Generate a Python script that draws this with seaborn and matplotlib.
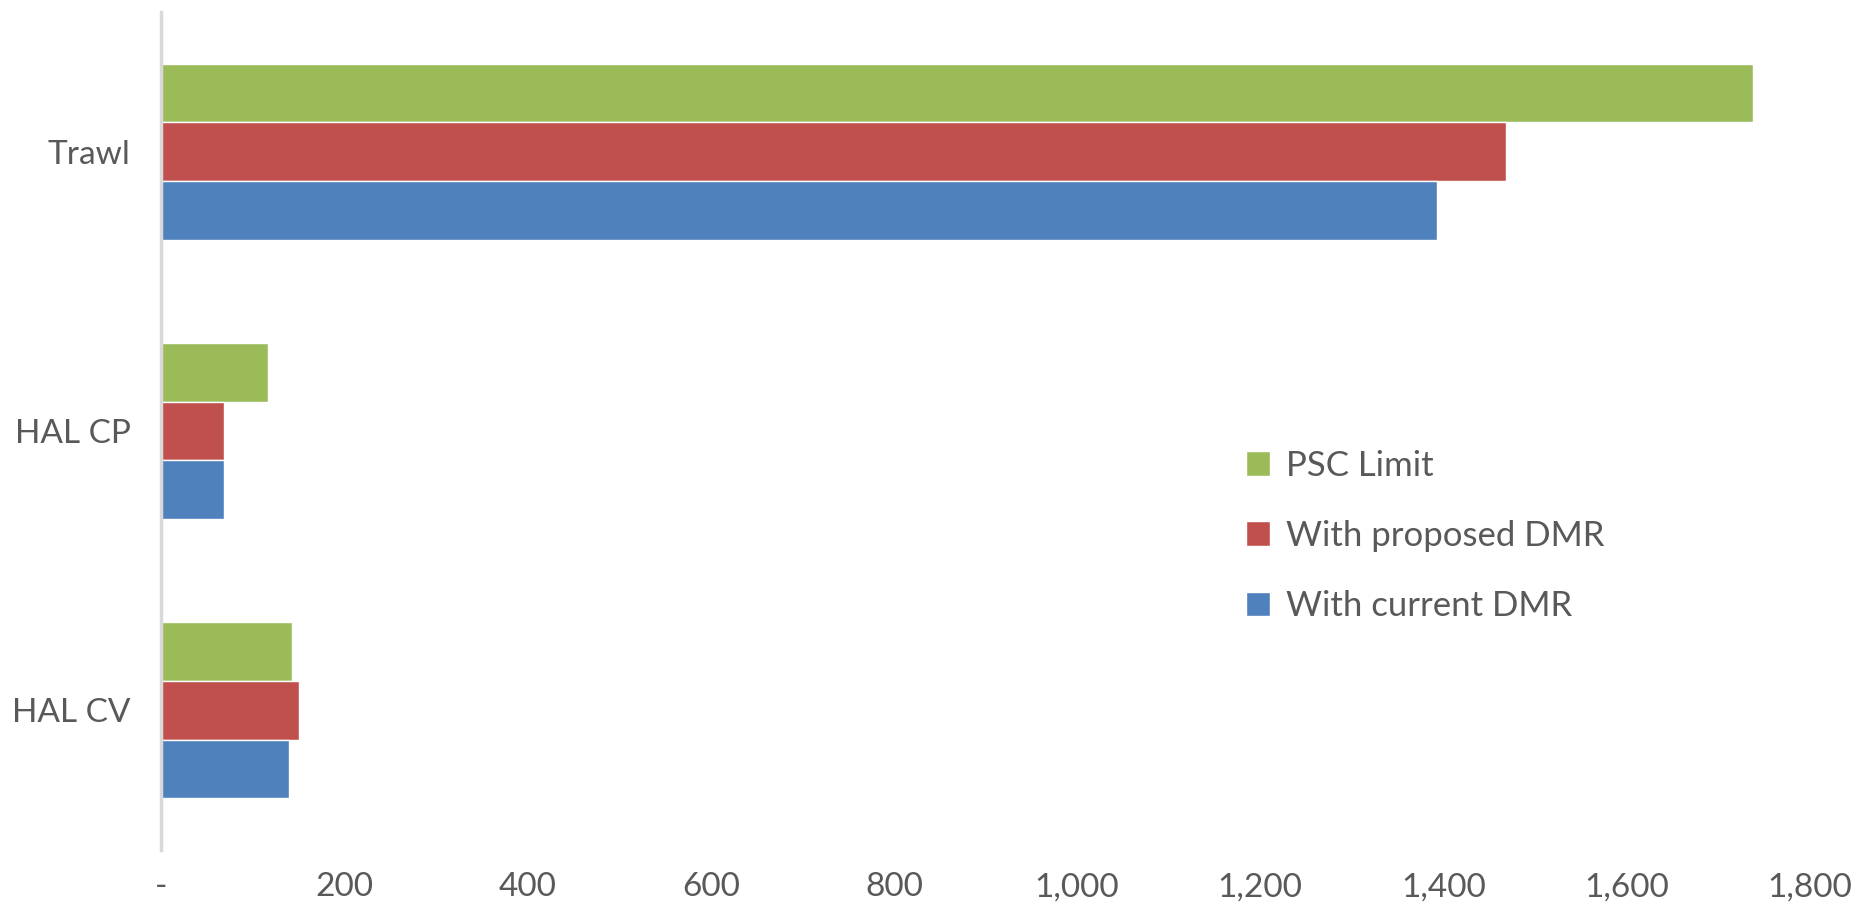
import pandas as pd
import matplotlib.pyplot as plt
import seaborn as sns
from matplotlib.ticker import FuncFormatter

# Values
gears = ['Trawl', 'HAL CP', 'HAL CV']
series = ['PSC Limit', 'With proposed DMR', 'With current DMR']
psc_limit = [1738, 116, 143]
proposed_dmr = [1468, 68, 150]
current_dmr = [1393, 68, 140]
colors = ['#9BBB59', '#C0504D', '#4F81BD']

df = pd.DataFrame({
    'gear': gears * 3,
    'series': [s for s in series for _ in gears],
    'value': psc_limit + proposed_dmr + current_dmr,
})

sns.set_style('white')
plt.rcParams['font.family'] = ['Lato', 'DejaVu Sans']

fig = plt.figure(figsize=(18.54, 9.16), dpi=100)
ax = fig.add_axes([0.087, 0.072, 0.889, 0.915])

sns.barplot(data=df, y='gear', x='value', hue='series', order=gears,
            hue_order=series, palette=colors, orient='h', width=0.63,
            saturation=1, ax=ax)

ax.set_xlim(0, 1800)
ax.set_ylim(2.5, -0.5)
ax.set_xticks(range(0, 1801, 200))
ax.xaxis.set_major_formatter(FuncFormatter(lambda v, p: '-' if v == 0 else f'{int(v):,}'))
ax.set_xlabel('')
ax.set_ylabel('')
ax.tick_params(axis='both', length=0, labelsize=24, colors='#595959')
ax.tick_params(axis='x', pad=16)
ax.tick_params(axis='y', pad=22)

for side in ['top', 'right', 'bottom']:
    ax.spines[side].set_visible(False)
ax.spines['left'].set_color('#D9D9D9')
ax.spines['left'].set_linewidth(2.5)

ax.legend(loc='center left', bbox_to_anchor=(0.639, 0.375), frameon=False,
          fontsize=25, labelcolor='#595959', handlelength=0.7,
          handleheight=0.7, handletextpad=0.45, labelspacing=1.1)

plt.savefig('out.png')
plt.close()
